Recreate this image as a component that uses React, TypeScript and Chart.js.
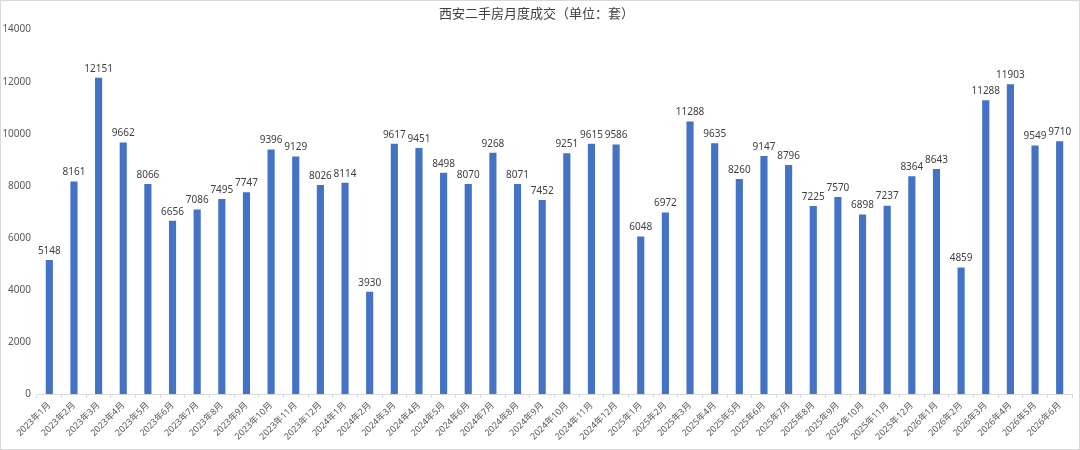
import { useEffect, useRef } from 'react';
import { Chart, registerables } from 'chart.js';

Chart.register(...registerables);

const TITLE = '西安二手房月度成交（单位：套）';

const months = [
  '2023年1月', '2023年2月', '2023年3月', '2023年4月', '2023年5月', '2023年6月',
  '2023年7月', '2023年8月', '2023年9月', '2023年10月', '2023年11月', '2023年12月',
  '2024年1月', '2024年2月', '2024年3月', '2024年4月', '2024年5月', '2024年6月',
  '2024年7月', '2024年8月', '2024年9月', '2024年10月', '2024年11月', '2024年12月',
  '2025年1月', '2025年2月', '2025年3月', '2025年4月', '2025年5月', '2025年6月',
  '2025年7月', '2025年8月', '2025年9月', '2025年10月', '2025年11月', '2025年12月',
  '2026年1月', '2026年2月', '2026年3月', '2026年4月', '2026年5月', '2026年6月',
];

// bar heights as drawn in the picture
const deals = [
  5148, 8161, 12151, 9662, 8066, 6656, 7086, 7495, 7747, 9396, 9129, 8026,
  8114, 3930, 9617, 9451, 8498, 8070, 9268, 8071, 7452, 9251, 9615, 9586,
  6048, 6972, 10470, 9635, 8260, 9147, 8796, 7225, 7570, 6898, 7237, 8364,
  8643, 4859, 11288, 11903, 9549, 9710,
];

// numbers printed above the bars (2025年3月 reads 11288 though the bar is lower)
const printed = [
  '5148', '8161', '12151', '9662', '8066', '6656', '7086', '7495', '7747', '9396', '9129', '8026',
  '8114', '3930', '9617', '9451', '8498', '8070', '9268', '8071', '7452', '9251', '9615', '9586',
  '6048', '6972', '11288', '9635', '8260', '9147', '8796', '7225', '7570', '6898', '7237', '8364',
  '8643', '4859', '11288', '11903', '9549', '9710',
];

const FONT = "'Noto Sans', 'Noto Sans CJK SC', sans-serif";

const barLabels = {
  id: 'barLabels',
  afterDatasetsDraw(chart: Chart) {
    const ctx = chart.ctx;
    const meta = chart.getDatasetMeta(0);
    ctx.save();
    ctx.font = `10px ${FONT}`;
    ctx.fillStyle = '#404040';
    ctx.textAlign = 'center';
    ctx.textBaseline = 'bottom';
    meta.data.forEach((bar: any, i: number) => {
      ctx.fillText(printed[i], bar.x, bar.y - 4);
    });
    ctx.restore();
  },
};

export default function App() {
  const canvasRef = useRef<HTMLCanvasElement>(null);
  const chartRef = useRef<Chart | null>(null);

  useEffect(() => {
    document.body.style.margin = '0';
    if (!canvasRef.current) return;
    chartRef.current?.destroy();

    chartRef.current = new Chart(canvasRef.current, {
      type: 'bar',
      data: {
        labels: months,
        datasets: [
          {
            data: deals,
            backgroundColor: '#4472C4',
            barPercentage: 0.29,
            categoryPercentage: 1,
          },
        ],
      },
      options: {
        animation: false,
        responsive: false,
        layout: { padding: { left: 0, right: 7, top: 0, bottom: 0 } },
        plugins: {
          legend: { display: false },
          tooltip: { enabled: false },
          title: {
            display: true,
            text: TITLE,
            color: '#404040',
            font: { family: "'Noto Sans CJK SC', sans-serif", size: 13, weight: 'normal', lineHeight: 1.2 },
            padding: { top: 4, bottom: 9 },
          },
        },
        scales: {
          x: {
            grid: {
              offset: true,
              drawOnChartArea: false,
              drawTicks: true,
              tickLength: 4,
              color: '#d9d9d9',
            },
            border: { color: '#d9d9d9' },
            ticks: {
              color: '#595959',
              font: { family: FONT, size: 9 },
              maxRotation: 45,
              minRotation: 45,
              autoSkip: false,
              padding: 2,
            },
            afterFit: (scale: any) => {
              scale.height = 55;
            },
          },
          y: {
            min: 0,
            max: 14000,
            grid: { display: false, drawTicks: false },
            border: { display: false },
            ticks: {
              stepSize: 2000,
              color: '#595959',
              font: { family: FONT, size: 10 },
              padding: 6,
              callback: (v: any) => String(v),
            },
            afterFit: (scale: any) => {
              scale.width = 36;
            },
          },
        },
      },
      plugins: [barLabels],
    });

    return () => {
      chartRef.current?.destroy();
      chartRef.current = null;
    };
  }, []);

  return (
    <div
      style={{
        width: 1080,
        height: 450,
        boxSizing: 'border-box',
        border: '1px solid #d9d9d9',
        background: '#fff',
      }}
    >
      <canvas ref={canvasRef} width={1078} height={448}></canvas>
    </div>
  );
}
